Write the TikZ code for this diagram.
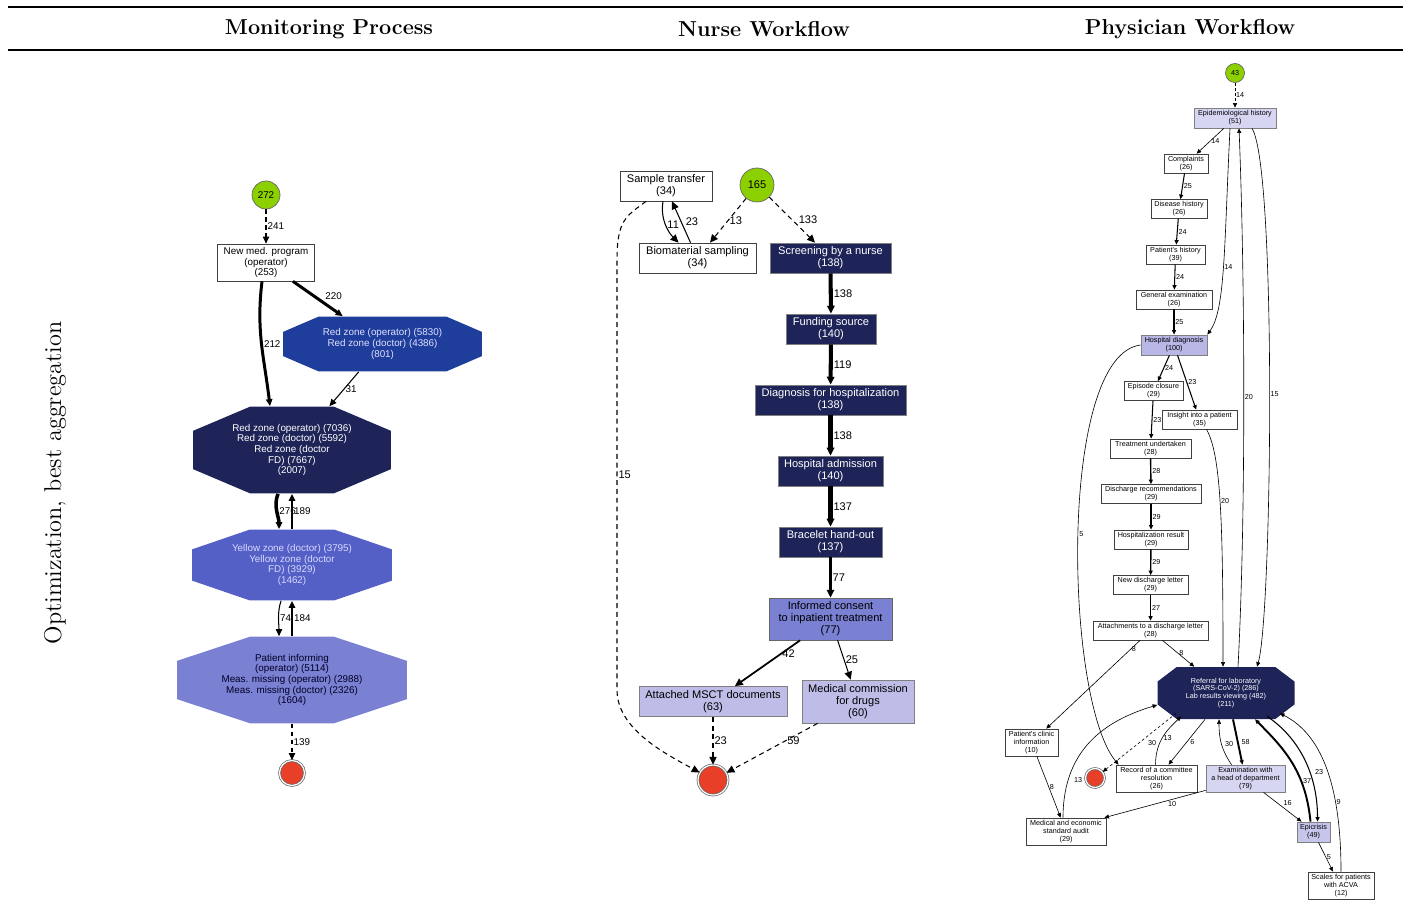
\documentclass[tikz,border=0pt]{standalone}
\usepackage{fontspec}
\usetikzlibrary{arrows.meta,calc}

\newfontfamily\gvfont{Liberation Sans}
\newcommand{\mfs}{\gvfont\fontsize{5.6}{6.1}\selectfont}
\newcommand{\nfs}{\gvfont\fontsize{6.3}{6.8}\selectfont}
\newcommand{\pfs}{\gvfont\fontsize{4.1}{4.5}\selectfont}
\newcommand{\hfs}{\fontsize{12.3}{14}\selectfont\bfseries}

\definecolor{startgreen}{RGB}{140,208,0}
\definecolor{endred}{RGB}{232,64,40}
\definecolor{navy}{RGB}{30,36,88}
\definecolor{royal}{RGB}{31,62,156}
\definecolor{midblue}{RGB}{84,96,198}
\definecolor{softblue}{RGB}{122,128,210}
\definecolor{lilac}{RGB}{190,189,232}
\definecolor{palelilac}{RGB}{214,213,242}
\definecolor{hosplilac}{RGB}{184,183,230}

\tikzset{
	every node/.append style={align=center, inner sep=0pt},
	octa/.style 2 args={rectangle, inner sep=0pt, path picture={
		\fill[#1]
			($(path picture bounding box.north west)!#2!(path picture bounding box.north east)$) --
			($(path picture bounding box.north east)!#2!(path picture bounding box.north west)$) --
			($(path picture bounding box.north east)!.28!(path picture bounding box.south east)$) --
			($(path picture bounding box.south east)!.28!(path picture bounding box.north east)$) --
			($(path picture bounding box.south east)!#2!(path picture bounding box.south west)$) --
			($(path picture bounding box.south west)!#2!(path picture bounding box.south east)$) --
			($(path picture bounding box.south west)!.28!(path picture bounding box.north west)$) --
			($(path picture bounding box.north west)!.28!(path picture bounding box.south west)$) -- cycle;}},
	startnode/.style={circle, draw=black!60, fill=startgreen},
	endnode/.style={circle, draw=black!60, double=white, double distance=0.7pt, fill=endred},
	mbox/.style={rectangle, draw=black!75, fill=white, font=\mfs},
	nbox/.style={rectangle, draw=black!75, fill=white, font=\nfs, minimum height=0.6cm},
	ndark/.style={nbox, draw=black!50, fill=navy, text=white},
	pbox/.style={rectangle, draw=black!75, fill=white, font=\pfs, minimum height=0.38cm},
	medge/.style={draw=black, line width=0.6pt, -{Triangle[length=4pt,width=3.6pt]}},
	mdash/.style={medge, dash pattern=on 2.5pt off 2pt},
	mlab/.style={font=\mfs, anchor=west, inner sep=0.6pt},
	nedge/.style={draw=black, line width=0.6pt, -{Triangle[length=4.5pt,width=4.2pt]}},
	ndash/.style={nedge, dash pattern=on 2.8pt off 2.2pt},
	nlab/.style={font=\nfs, anchor=west, inner sep=0.6pt},
	pedge/.style={draw=black, line width=0.35pt, -{Triangle[length=2.6pt,width=2.3pt]}},
	pdash/.style={pedge, dash pattern=on 1.6pt off 1.3pt},
	plab/.style={font=\pfs, anchor=west, inner sep=0.5pt},
}

\begin{document}
\begin{tikzpicture}[x=0.02cm, y=-0.02cm]
	\useasboundingbox (0,0) rectangle (1408,918);

	\draw[line width=1.3pt] (8,7) -- (1403,7);
	\draw[line width=0.7pt] (8,50) -- (1403,50);
	\node[font=\hfs] (hmon) at (329,29) {Monitoring Process};
	\node[font=\hfs] (hnur) at (764,29) {Nurse Workflow};
	\node[font=\hfs] (hphy) at (1190,29) {Physician Workflow};
	\node[rotate=90, font=\fontsize{13.8}{16}\selectfont] (side) at (55,483) {Optimization, best aggregation};

	% monitoring process
	\node[startnode, minimum size=0.56cm, font=\mfs] (m272) at (266,195) {272};
	\node[mbox, minimum width=1.94cm, minimum height=0.74cm] (mnew) at (266,262.5) {New med. program\\(operator)\\(253)};
	\node[octa={royal}{0.18}, minimum width=3.98cm, minimum height=1.1cm, font=\mfs, text=white!88!blue] (mred) at (382.5,344) {Red zone (operator) (5830)\\Red zone (doctor) (4386)\\(801)};
	\node[octa={navy}{0.29}, minimum width=3.96cm, minimum height=1.74cm, font=\mfs, text=white] (mdark) at (292,450) {Red zone (operator) (7036)\\Red zone (doctor) (5592)\\Red zone (doctor\\FD) (7667)\\(2007)};
	\node[octa={midblue}{0.29}, minimum width=4cm, minimum height=1.42cm, font=\mfs, text=white!85!blue] (myel) at (292,565) {Yellow zone (doctor) (3795)\\Yellow zone (doctor\\FD) (3929)\\(1462)};
	\node[octa={softblue}{0.32}, minimum width=4.6cm, minimum height=1.74cm, font=\mfs, text=black!85!blue] (mpat) at (292,680) {Patient informing\\(operator) (5114)\\Meas. missing (operator) (2988)\\Meas. missing (doctor) (2326)\\(1604)};
	\node[endnode, minimum size=0.5cm] (mend) at (292,773) {};

	\draw[mdash] (m272) -- node[mlab]{241} (mnew);
	\draw[medge, line width=1.7pt] (mnew) -- node[mlab, pos=.6, above right]{220} (mred);
	\draw[medge, line width=1.7pt] ([xshift=-0.08cm]mnew.south) .. controls +(-6,50) and +(-6,-50) .. node[mlab]{212} ([xshift=-0.44cm]mdark.north);
	\draw[medge] (mred) -- node[mlab]{31} (mdark);
	\draw[medge, line width=2pt] ([xshift=-0.28cm]mdark.south) .. controls +(-5,12) and +(0,-12) .. node[mlab]{276} ([xshift=-0.26cm]myel.north);
	\draw[medge, line width=1.2pt] (myel.north) -- node[mlab]{189} (mdark.south);
	\draw[medge] ([xshift=-0.22cm]myel.south) .. controls +(-4,12) and +(0,-12) .. node[mlab]{74} ([xshift=-0.26cm]mpat.north);
	\draw[medge, line width=1.2pt] (mpat.north) -- node[mlab]{184} (myel.south);
	\draw[mdash] (mpat) -- node[mlab]{139} (mend);

	% nurse workflow
	\node[startnode, minimum size=0.68cm, font=\nfs] (n165) at (757,185) {165};
	\node[nbox, minimum width=1.84cm] (nsample) at (666,186) {Sample transfer\\(34)};
	\node[nbox, minimum width=2.34cm] (nbio) at (697.5,258) {Biomaterial sampling\\(34)};
	\node[ndark, minimum width=2.42cm] (nscreen) at (830.5,258) {Screening by a nurse\\(138)};
	\node[ndark, minimum width=1.8cm] (nfund) at (831,329) {Funding source\\(140)};
	\node[ndark, minimum width=3.02cm] (ndiag) at (830.5,400) {Diagnosis for hospitalization\\(138)};
	\node[ndark, minimum width=2.1cm] (nadm) at (830.5,471) {Hospital admission\\(140)};
	\node[ndark, minimum width=2.06cm] (nbrac) at (830.5,542) {Bracelet hand-out\\(137)};
	\node[nbox, draw=black!60, fill=softblue, minimum width=2.46cm, minimum height=0.84cm] (ncons) at (830.5,619) {Informed consent\\to inpatient treatment\\(77)};
	\node[nbox, draw=black!50, fill=lilac, minimum width=2.96cm] (nmsct) at (713,701.5) {Attached MSCT documents\\(63)};
	\node[nbox, draw=black!50, fill=lilac, minimum width=2.24cm, minimum height=0.86cm] (ncom) at (858,701.5) {Medical commission\\for drugs\\(60)};
	\node[endnode, minimum size=0.6cm] (nend) at (713,780) {};

	\draw[ndash] (n165) -- node[nlab]{13} (nbio);
	\draw[ndash] (n165) -- node[nlab, right=0.1cm]{133} (nscreen);
	\draw[nedge] ([xshift=-0.06cm]nsample.south) .. controls +(-3,18) and +(-10,-10) .. node[nlab]{11} ([xshift=-0.38cm]nbio.north);
	\draw[nedge] ([xshift=-0.14cm]nbio.north) -- node[nlab, right=0.06cm]{23} ([xshift=0.12cm]nsample.south);
	\draw[nedge, line width=2.3pt] (nscreen) -- node[nlab]{138} (nfund);
	\draw[nedge, line width=2.3pt] (nfund) -- node[nlab]{119} (ndiag);
	\draw[nedge, line width=2.3pt] (ndiag) -- node[nlab]{138} (nadm);
	\draw[nedge, line width=2.3pt] (nadm) -- node[nlab]{137} (nbrac);
	\draw[nedge, line width=1.2pt] (nbrac) -- node[nlab]{77} (ncons);
	\draw[nedge, line width=1pt] (ncons) -- node[nlab, pos=.3]{42} (nmsct);
	\draw[nedge] (ncons) -- node[nlab]{25} (ncom);
	\draw[ndash] (nmsct) -- node[nlab]{23} (nend);
	\draw[ndash] (ncom) -- node[nlab, pos=.35]{59} (nend);
	\draw[ndash] ([xshift=-0.4cm]nsample.south) .. controls +(-20,15) and +(0,-40) .. (617,260) -- node[nlab]{15} (617,690) .. controls +(0,40) and +(-45,-25) .. (nend);

	% physician workflow
	\node[startnode, minimum size=0.38cm, font=\pfs] (p43) at (1235,73) {43};
	\node[pbox, draw=black!50, fill=palelilac, minimum width=1.64cm, minimum height=0.4cm] (pepi) at (1235,118) {Epidemiological history\\(51)};
	\node[pbox, minimum width=0.88cm] (pcomp) at (1186,163.5) {Complaints\\(26)};
	\node[pbox, minimum width=1.12cm] (pdis) at (1179,209) {Disease history\\(26)};
	\node[pbox, minimum width=1.18cm] (ppat) at (1175.5,254.5) {Patient's history\\(39)};
	\node[pbox, minimum width=1.52cm] (pgen) at (1174,299.5) {General examination\\(26)};
	\node[pbox, draw=black!50, fill=hosplilac, minimum width=1.32cm, minimum height=0.4cm] (phosp) at (1174,345) {Hospital diagnosis\\(100)};
	\node[pbox, minimum width=1.18cm] (pepis) at (1153.5,391) {Episode closure\\(29)};
	\node[pbox, minimum width=1.5cm] (pins) at (1199.5,419.5) {Insight into a patient\\(35)};
	\node[pbox, minimum width=1.62cm] (ptreat) at (1150.5,448.5) {Treatment undertaken\\(28)};
	\node[pbox, minimum width=2cm] (pdrec) at (1151,494) {Discharge recommendations\\(29)};
	\node[pbox, minimum width=1.48cm] (phres) at (1151,539.5) {Hospitalization result\\(29)};
	\node[pbox, minimum width=1.5cm] (pndl) at (1150.5,585) {New discharge letter\\(29)};
	\node[pbox, minimum width=2.3cm] (patt) at (1150.5,630.5) {Attachments to a discharge letter\\(28)};
	\node[octa={navy}{0.14}, minimum width=2.74cm, minimum height=1.04cm, font=\pfs, text=white] (pref) at (1226,693) {Referral for laboratory\\(SARS-CoV-2) (286)\\Lab results viewing (482)\\(211)};
	\node[pbox, minimum width=1.06cm, minimum height=0.54cm] (pcli) at (1031.5,742.5) {Patient's clinic\\information\\(10)};
	\node[endnode, minimum size=0.38cm] (pend) at (1095,778) {};
	\node[pbox, minimum width=1.62cm, minimum height=0.54cm] (prec) at (1156.5,778.5) {Record of a committee\\resolution\\(26)};
	\node[pbox, draw=black!50, fill=palelilac, minimum width=1.58cm, minimum height=0.54cm] (pexam) at (1245.5,778.5) {Examination with\\a head of department\\(79)};
	\node[pbox, minimum width=1.6cm, minimum height=0.54cm] (paud) at (1066,831.5) {Medical and economic\\standard audit\\(29)};
	\node[pbox, draw=black!50, fill=hosplilac!80!white, minimum width=0.66cm, minimum height=0.4cm] (pepic) at (1313.5,832) {Epicrisis\\(49)};
	\node[pbox, minimum width=1.32cm, minimum height=0.54cm] (pscal) at (1341,885.5) {Scales for patients\\with ACVA\\(12)};

	\draw[pdash] (p43) -- node[plab]{14} (pepi);
	\draw[pedge] (pepi) -- node[plab]{14} (pcomp);
	\draw[pedge, line width=0.6pt] (pcomp) -- node[plab]{25} (pdis);
	\draw[pedge, line width=0.6pt] (pdis) -- node[plab]{24} (ppat);
	\draw[pedge, line width=0.6pt] (ppat) -- node[plab]{24} (pgen);
	\draw[pedge, line width=0.6pt] (pgen) -- node[plab]{25} (phosp);
	\draw[pedge] ([xshift=-0.1cm]pepi.south) .. controls +(-6,120) and +(18,-25) .. node[plab]{14} (phosp.north east);
	\draw[pedge] ([xshift=0.24cm]pref.north) .. controls +(8,-150) and +(6,150) .. node[plab]{20} ([xshift=0.08cm]pepi.south);
	\draw[pedge] ([xshift=0.34cm]pepi.south) .. controls +(25,40) and +(15,-50) .. node[plab]{15} ([xshift=0.62cm]pref.north);
	\draw[pedge, line width=0.6pt] (phosp) -- node[plab]{24} (pepis);
	\draw[pedge, line width=0.6pt] (phosp) -- node[plab]{23} (pins);
	\draw[pedge, line width=0.6pt] (pepis) -- node[plab]{23} (ptreat);
	\draw[pedge, line width=0.8pt] (ptreat) -- node[plab]{28} (pdrec);
	\draw[pedge, line width=0.8pt] (pdrec) -- node[plab]{29} (phres);
	\draw[pedge, line width=0.8pt] (phres) -- node[plab]{29} (pndl);
	\draw[pedge, line width=0.8pt] (pndl) -- node[plab]{27} (patt);
	\draw[pedge] ([xshift=0.14cm]pins.south) .. controls +(14,25) and +(0,-150) .. node[plab]{20} ([xshift=-0.06cm]pref.north);
	\draw[pedge] (phosp.west) .. controls +(-83,10) and +(-54,-65) .. node[plab]{5} ([xshift=-0.76cm]prec.north);
	\draw[pedge] (patt) -- node[plab, pos=.1]{8} (pcli);
	\draw[pedge] (patt) -- node[plab, pos=.5]{8} (pref);
	\draw[pedge] (pcli) -- node[plab]{8} (paud);
	\draw[pedge] ([xshift=-0.06cm]paud.north) .. controls +(0,-70) and +(-50,15) .. node[plab, pos=.2, right=0.1cm]{13} ([yshift=-0.24cm]pref.west);
	\draw[pdash] ([xshift=-1cm,yshift=0.12cm]pref.south) -- node[plab, right=0.15cm]{30} (pend);
	\draw[pedge] ([xshift=-0.02cm]prec.north) .. controls +(0,-25) and +(-12,12) .. node[plab, pos=.45]{13} ([xshift=-0.9cm,yshift=0.06cm]pref.south);
	\draw[pedge] ([xshift=-0.42cm]pref.south) -- node[plab, right=0.05cm]{6} ([xshift=0.24cm]prec.north);
	\draw[pedge] ([xshift=-0.28cm]pexam.north) .. controls +(-10,-15) and +(0,20) .. node[plab, right=0.05cm]{30} ([xshift=-0.14cm]pref.south);
	\draw[pedge, line width=1.1pt] ([xshift=0.14cm]pref.south) -- node[plab, right=0.04cm]{58} ([xshift=-0.06cm]pexam.north);
	\draw[pedge] ([yshift=0.04cm]pexam.south west) -- node[plab, pos=.33, below=0.02cm]{10} ([xshift=-0.04cm]paud.north east);
	\draw[pedge] ([xshift=0.36cm]pexam.south) -- node[plab, above right]{16} ([xshift=-0.24cm]pepic.north);
	\draw[pedge, line width=1.1pt] ([xshift=-0.06cm]pepic.north) .. controls +(-5,-50) and +(30,30) .. node[plab, pos=.32]{37} ([xshift=0.58cm]pref.south);
	\draw[pedge, line width=0.6pt] ([xshift=0.82cm,yshift=0.06cm]pref.south) .. controls +(30,20) and +(0,-50) .. node[plab, pos=.63, right=0.08cm]{23} ([xshift=0.08cm]pepic.north);
	\draw[pedge] ([xshift=0.1cm]pepic.south) -- node[plab]{5} ([xshift=-0.16cm]pscal.north);
	\draw[pedge] (pscal.north) .. controls +(0,-90) and +(40,20) .. node[plab, pos=.3]{9} ([xshift=-0.3cm,yshift=0.12cm]pref.south east);
\end{tikzpicture}
\end{document}
